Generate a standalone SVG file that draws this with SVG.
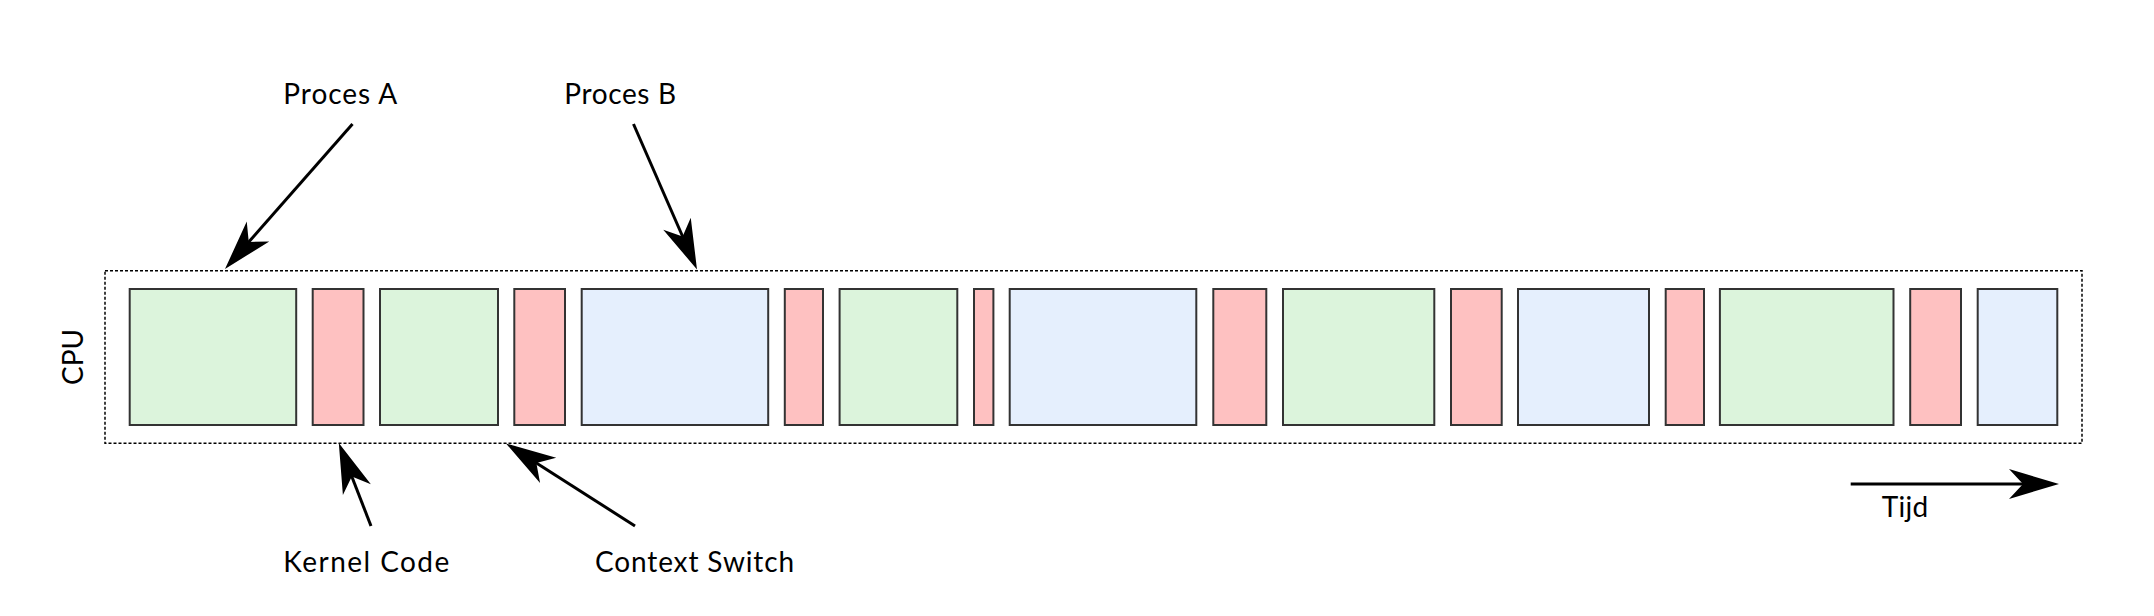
<svg xmlns="http://www.w3.org/2000/svg" width="2154" height="616" viewBox="0 0 2154 616">
<style>
  .lbl { font-family: Lato, "Noto Sans", "Liberation Sans", sans-serif; font-size: 28px; fill: #000; }
  .blk { stroke: #333; stroke-width: 2; }
  .g { fill: #DCF4DC; }
  .r { fill: #FEC1C1; }
  .b { fill: #E5EFFD; }
  .frame { fill: none; stroke: #000; stroke-width: 1.5; stroke-dasharray: 3 2; }
  .conn { stroke: #000; stroke-width: 3; fill: none; marker-end: url(#head); }
</style>
<defs>
  <marker id="head" markerUnits="userSpaceOnUse" orient="auto" refX="0" refY="0" markerWidth="80" markerHeight="40" viewBox="-25 -20 60 40" overflow="visible">
    <path d="M30,0 L-20,-15 L-6,0 L-20,15 Z" fill="#000"/>
  </marker>
</defs>
<rect width="2154" height="616" fill="#fff"/>
<g id="cpu-frame">
  <rect class="frame" x="105" y="270.7" width="1977" height="172.5"/>
  <text class="lbl" transform="translate(83.3,357) rotate(-90)" text-anchor="middle" textLength="56">CPU</text>
</g>
<g id="block-01"><rect class="blk g" x="129.7" y="289" width="166.5" height="136"/></g>
<g id="block-02"><rect class="blk r" x="312.7" y="289" width="50.8" height="136"/></g>
<g id="block-03"><rect class="blk g" x="380" y="289" width="118" height="136"/></g>
<g id="block-04"><rect class="blk r" x="514.3" y="289" width="50.7" height="136"/></g>
<g id="block-05"><rect class="blk b" x="581.7" y="289" width="186.5" height="136"/></g>
<g id="block-06"><rect class="blk r" x="784.8" y="289" width="38.2" height="136"/></g>
<g id="block-07"><rect class="blk g" x="839.6" y="289" width="117.7" height="136"/></g>
<g id="block-08"><rect class="blk r" x="974" y="289" width="19.4" height="136"/></g>
<g id="block-09"><rect class="blk b" x="1009.7" y="289" width="186.6" height="136"/></g>
<g id="block-10"><rect class="blk r" x="1213.3" y="289" width="53" height="136"/></g>
<g id="block-11"><rect class="blk g" x="1283" y="289" width="151.3" height="136"/></g>
<g id="block-12"><rect class="blk r" x="1451" y="289" width="50.7" height="136"/></g>
<g id="block-13"><rect class="blk b" x="1518" y="289" width="131" height="136"/></g>
<g id="block-14"><rect class="blk r" x="1665.7" y="289" width="38.3" height="136"/></g>
<g id="block-15"><rect class="blk g" x="1719.9" y="289" width="173.6" height="136"/></g>
<g id="block-16"><rect class="blk r" x="1910.2" y="289" width="50.8" height="136"/></g>
<g id="block-17"><rect class="blk b" x="1977.7" y="289" width="79.6" height="136"/></g>
<g id="label-proces-a"><text class="lbl" x="283.3" y="103.5" textLength="114">Proces A</text></g>
<g id="label-proces-b"><text class="lbl" x="564.3" y="103.5" textLength="111.7">Proces B</text></g>
<g id="label-kernel-code"><text class="lbl" x="283.3" y="571.5" textLength="166">Kernel Code</text></g>
<g id="label-context-switch"><text class="lbl" x="595" y="571.5" textLength="199">Context Switch</text></g>
<g id="label-tijd"><text class="lbl" x="1881.7" y="516.7" textLength="46.6">Tijd</text></g>
<g id="connectors">
  <line class="conn" x1="352.5" y1="124" x2="244.8" y2="246.5"/>
  <line class="conn" x1="633.5" y1="124" x2="685" y2="242"/>
  <line class="conn" x1="371" y1="526" x2="349.65" y2="470.97"/>
  <line class="conn" x1="635" y1="526" x2="531.3" y2="459.7"/>
  <line class="conn" x1="1850.7" y1="484" x2="2029" y2="484"/>
</g>
</svg>
